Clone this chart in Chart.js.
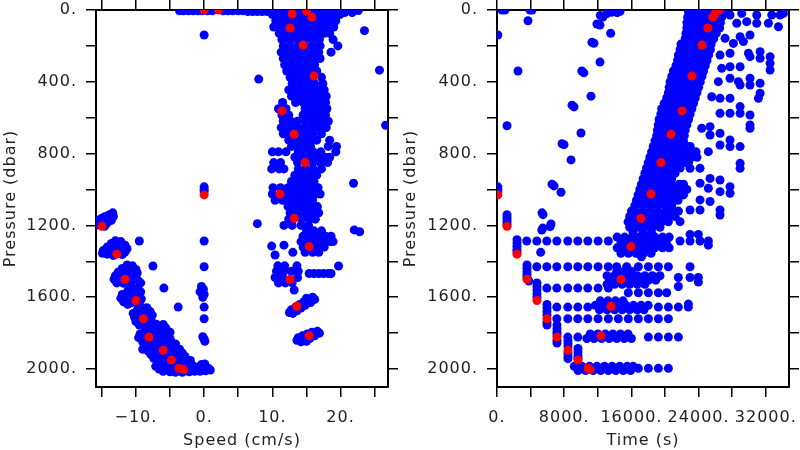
<!DOCTYPE html>
<html>
<head>
<meta charset="utf-8">
<script src="https://cdn.jsdelivr.net/npm/chart.js@4.4.1/dist/chart.umd.min.js"></script>
<style>
  body { margin: 0; background: #fff; width: 800px; height: 450px; overflow: hidden; }
  canvas { position: absolute; top: 0; }
  #speedChart { left: 0; }
  #timeChart { left: 400px; }
</style>
</head>
<body>
<canvas id="speedChart" width="400" height="450"></canvas>
<canvas id="timeChart" width="400" height="450"></canvas>
<script>
// ticks
const pressureTicks = [0, 200, 400, 600, 800, 1000, 1200, 1400, 1600, 1800, 2000];
const pressureLabels = [0, 400, 800, 1200, 1600, 2000];
const speedTicks = [-15, -10, -5, 0, 5, 10, 15, 20, 25];
const speedLabels = [-10, 0, 10, 20];
const timeTicks = [0, 4000, 8000, 12000, 16000, 20000, 24000, 28000, 32000];
const timeLabels = [0, 8000, 16000, 24000, 32000];

// red samples: same index in the three lists
const redPressure = [1030, 1205, 1360, 1500, 1618, 1720, 1822, 1895, 1950, 1995, 2003, 1815, 1650, 1500, 1318, 1160, 1025, 850, 692, 562, 368, 195, 100, 40, 22, 6, 0, 0];
const redSpeed = [0, -15, -12.8, -11.6, -10, -8.9, -8.1, -6, -4.8, -3.7, -3, 15.4, 13.6, 12.6, 15.4, 13.2, 11.1, 14.8, 13.2, 11.4, 16.1, 14.5, 12.6, 15.8, 12.9, 15, 2.1, 0];
const redTime = [100, 1190, 2380, 3570, 4760, 5950, 7140, 8450, 9640, 10830, 11070, 12380, 13570, 14760, 15950, 17140, 18330, 19520, 20710, 22020, 23200, 24400, 25100, 25700, 25950, 26150, 26300, 26450];

// left panel, rows: [pressure, speed, speed, ...]
const speedRows = [
  [4, -3.6, -3.0, -2.3, -1.6, -0.9, -0.3, 0.5, 1.2, 2.8, 3.5, 4.2, 5.0, 5.7],
  [9, 6.4, 7.1, 7.8, 8.5, 9.2],
  [3, 9.9, 10.6, 11.3, 12.0, 12.7, 13.4, 14.1, 14.8, 15.5, 16.2, 16.9, 17.6, 18.3, 19.0, 19.7, 20.4, 21.1, 21.8, 22.6],
  [14, 19.4, 20.6, 21.7],
  [25, 10.0, 11.1, 12.2, 13.3, 14.4, 15.5, 16.6, 17.7, 18.8, 19.9],
  [60, 10.5, 11.6, 12.7, 13.8, 14.9, 16.0, 17.1, 18.2, 19.3],
  [95, 10.2, 11.3, 12.4, 13.5, 14.6, 15.7, 16.8, 17.9, 19.0],
  [130, 11.0, 12.1, 13.2, 14.3, 15.4, 16.5, 17.6, 18.4],
  [165, 11.4, 12.5, 13.6, 14.7, 15.8, 16.9, 18.9],
  [200, 11.6, 12.7, 13.8, 14.9, 16.0, 17.0, 19.6],
  [235, 11.3, 12.4, 13.5, 14.6, 15.7, 16.8, 18.6],
  [270, 11.6, 12.7, 13.8, 14.9, 16.0, 17.0],
  [305, 11.8, 12.9, 14.0, 15.1, 16.2],
  [340, 12.1, 13.2, 14.3, 15.4, 16.5],
  [375, 12.6, 13.7, 14.8, 15.9, 17.2],
  [410, 12.9, 14.0, 15.1, 16.2, 17.4],
  [445, 12.4, 13.5, 14.6, 15.7, 16.8, 17.6],
  [480, 12.8, 13.9, 15.0, 16.1, 17.2, 17.9],
  [515, 11.5, 13.4, 14.5, 15.6, 16.7, 17.8],
  [550, 10.9, 12.0, 14.8, 15.9, 17.0, 18.0],
  [585, 11.4, 12.4, 14.5, 15.6, 16.7, 17.8],
  [620, 11.6, 12.7, 13.7, 14.9, 16.0, 17.1, 18.2],
  [655, 11.3, 12.4, 13.5, 14.6, 15.7, 16.8, 17.9],
  [690, 11.6, 12.6, 13.8, 14.9, 16.0, 17.2],
  [725, 12.4, 13.5, 14.6, 15.7, 16.5, 18.4],
  [760, 12.8, 13.9, 15.0, 15.6, 18.2, 19.4],
  [790, 10.0, 10.9, 12.0, 13.8, 14.9, 16.0, 17.1, 19.3],
  [820, 13.3, 14.4, 15.5, 16.6, 17.7, 18.4],
  [850, 10.2, 11.2, 13.7, 15.9, 17.0, 18.1],
  [885, 9.9, 11.0, 11.7, 13.8, 14.9, 16.0, 17.2],
  [920, 13.3, 14.4, 15.5, 16.5],
  [955, 12.8, 13.9, 15.0, 16.1],
  [990, 10.1, 11.2, 12.3, 13.4, 14.5, 15.6, 16.7],
  [1025, 10.0, 12.0, 13.0, 14.1, 15.2, 16.3, 17.0],
  [1060, 10.4, 11.5, 12.6, 13.7, 14.8, 15.9],
  [1095, 12.3, 13.4, 14.5, 15.6, 16.6],
  [1130, 12.6, 13.7, 14.8, 15.9, 16.8],
  [1165, 12.4, 14.3, 15.4, 16.3],
  [1200, 11.7, 12.9, 14.2, 15.3],
  [1230, 15.0, 16.1, 17.2],
  [1260, 14.5, 15.6, 16.7, 17.8, 18.6],
  [1290, 14.2, 15.2, 16.2, 17.3, 18.4, 18.9],
  [1320, 14.5, 16.5, 17.6],
  [1350, 14.8, 15.9, 16.8],
  [1425, 10.8, 11.8, 13.6],
  [1455, 10.6, 11.7, 12.8, 13.8],
  [1468, 15.4, 16.1, 16.8, 17.5, 18.2, 18.6],
  [1490, 10.4, 11.5, 13.7],
  [1520, 10.9, 11.9, 12.9]
];

// left panel, single points: [speed, pressure]
const speedPairs = [
  [-13.4,1130],[-13.9,1140],[-13.3,1150],[-14.5,1150],[-13.9,1160],[-15.0,1160],[-14.4,1170],[-15.5,1170],[-13.6,1172],[-14.9,1180],[-15.8,1185],[-14.3,1190],[-15.3,1195],[-15.9,1200],[-14.6,1205],
  [-13.0,1285],[-12.2,1290],[-13.6,1300],[-12.6,1305],[-11.6,1310],[-14.2,1320],[-13.2,1320],[-12.1,1325],[-11.3,1330],[-14.8,1340],[-13.8,1340],[-12.6,1345],[-11.6,1348],[-14.2,1360],[-13.3,1368],[-12.0,1362],[-14.9,1355],
  [-11.3,1420],[-10.5,1425],[-12.0,1440],[-11.0,1440],[-10.0,1445],[-12.6,1460],[-11.6,1460],[-10.6,1462],[-9.8,1465],[-13.0,1480],[-12.0,1480],[-11.0,1485],[-10.1,1488],[-13.2,1500],[-12.4,1505],[-10.6,1505],[-9.6,1510],[-12.8,1520],[-11.8,1522],[-10.8,1525],[-9.3,1520],
  [-10.6,1545],[-9.7,1550],[-11.2,1565],[-10.2,1565],[-9.3,1570],[-12.0,1585],[-11.0,1585],[-10.0,1590],[-12.2,1605],[-11.4,1605],[-10.4,1612],[-9.2,1610],[-11.8,1625],[-10.8,1632],[-9.8,1635],[-11.2,1640],
  [-9.2,1655],[-8.4,1658],[-9.8,1672],[-8.8,1675],[-7.9,1680],[-10.4,1690],[-9.4,1695],[-8.4,1698],[-7.6,1700],[-10.2,1712],[-9.4,1720],[-8.0,1722],[-7.7,1735],[-10.0,1735],[-9.0,1740],[-8.2,1742],[-9.5,1755],
  [-7.0,1750],[-6.0,1752],[-7.6,1768],[-6.6,1770],[-5.6,1772],[-8.6,1785],[-7.8,1788],[-6.8,1790],[-5.8,1792],[-5.0,1795],[-9.4,1805],[-8.6,1805],[-7.6,1808],[-6.6,1810],[-5.6,1812],[-9.6,1825],[-8.8,1830],[-7.2,1828],[-6.2,1830],[-5.0,1830],[-9.0,1850],[-8.0,1850],[-7.0,1848],[-6.0,1850],[-8.6,1868],[-7.6,1870],[-9.0,1890],
  [-5.8,1840],[-4.9,1845],[-4.2,1860],[-5.2,1865],[-6.8,1865],[-7.6,1880],[-6.6,1882],[-5.4,1885],[-4.4,1885],[-3.6,1890],[-8.2,1900],[-7.2,1900],[-5.2,1905],[-4.2,1905],[-3.2,1910],[-7.8,1920],[-6.8,1920],[-5.8,1922],[-4.8,1925],[-3.8,1928],[-2.8,1930],[-7.4,1940],[-6.4,1942],[-5.4,1945],[-3.8,1948],[-2.8,1950],[-2.0,1952],[-6.8,1960],[-5.8,1962],[-4.0,1968],[-3.0,1968],[-2.0,1970],
  [-7.1,1985],[-6.3,1982],[-5.4,1980],[-4.6,1985],[-6.6,2000],[-5.8,2000],[-5.0,2002],[-4.2,2005],[-3.4,2008],[-2.6,2002],[-1.8,1992],[-1.0,1990],[-0.2,1992],[0.6,1995],[-6.0,2012],[-5.0,2015],[-4.2,2018],[-3.2,2018],[-2.2,2015],[-1.4,2012],[-0.6,2012],[0.2,2010],[0.9,2005],[-1.5,1985],[-0.4,1975],[0.1,1972],
  [0,139],[0,985],[0,1000],[0,1012],[0,1287],[0,1430],[-0.4,1540],[-0.1,1555],[-0.6,1570],[0,1585],[-0.2,1600],[0,1655],[0,1720],[-0.2,1820],[0,1832],[0.1,1845],
  [-9.5,1287],[-7.5,1426],[-5.9,1549],[-3.8,1655],[8,385],[7.8,1190],[23.5,115],[25.7,335],[26.6,642],[21.9,965],[22,1225],[22.8,1235],[19.7,1426],[9.9,1315],[10.4,1365],[11.7,1310],[13,1350],[13.2,1560],
  [15.9,1600],[16.2,1612],[15.2,1615],[14.6,1625],[15.6,1630],[14.0,1640],[14.8,1645],[13.4,1655],[14.2,1660],[12.8,1670],[13.6,1675],[12.5,1685],[13.0,1690],[15.0,1605],
  [16.6,1790],[16.9,1800],[15.8,1795],[15.1,1805],[16.2,1815],[14.4,1815],[13.8,1825],[14.6,1835],[15.5,1830],[13.6,1840],[14.2,1848],[15.0,1845]
];

// right panel, rows: [pressure, time, time, ...]
const timeRows = [
  [10, 22800, 23700, 24600, 25500, 26400, 26900],
  [40, 22700, 23150, 24050, 24950, 25850, 26750],
  [70, 22600, 23500, 24400, 25300, 26200, 26600],
  [100, 22600, 23050, 23950, 24850, 25750, 26500],
  [130, 22500, 23400, 24300, 25200, 26100],
  [160, 22400, 22850, 23750, 24650, 25550, 25800],
  [190, 21900, 22800, 23700, 24600, 25500],
  [220, 21800, 22250, 23150, 24050, 24950, 25400],
  [250, 21600, 22500, 23400, 24300, 25200],
  [280, 21500, 21950, 22850, 23750, 24650, 25000],
  [310, 21300, 22200, 23100, 24000, 24800],
  [340, 21000, 21450, 22350, 23250, 24150, 24600],
  [370, 20800, 21700, 22600, 23500, 24400],
  [400, 20600, 21050, 21950, 22850, 23750, 24200],
  [430, 20500, 21400, 22300, 23200, 24000],
  [460, 20400, 20850, 21750, 22650, 23550, 23800],
  [490, 20200, 21100, 22000, 22900, 23600],
  [520, 19900, 20350, 21250, 22150, 23050, 23400],
  [550, 19600, 20500, 21400, 22300, 23200],
  [580, 19500, 19950, 20850, 21750, 22650, 23000],
  [610, 19300, 20200, 21100, 22000, 22800],
  [640, 19200, 19650, 20550, 21450, 22350, 22600],
  [670, 19100, 20000, 20900, 21800, 22400],
  [700, 19000, 19450, 20350, 21250, 22150, 22300],
  [730, 18800, 19700, 20600, 21500, 22200],
  [760, 18600, 19050, 19950, 20850, 21750, 22650, 23000],
  [790, 18400, 19300, 20200, 21100, 22000, 22900, 23700],
  [820, 18200, 18650, 19550, 20450, 21350, 22250, 23150, 23800],
  [850, 18000, 18900, 19800, 20700, 21600, 22500, 22800],
  [880, 17800, 18250, 19150, 20050, 20950, 21800],
  [910, 17600, 18500, 19400, 20300, 21200],
  [940, 17400, 17850, 18750, 19650, 20550, 20800],
  [970, 17200, 18100, 19000, 19900, 20800, 21700, 22200],
  [1000, 17000, 17450, 18350, 19250, 20150, 21050, 21950, 22600],
  [1030, 16800, 17700, 18600, 19500, 20400, 21300, 22200],
  [1060, 16600, 17050, 17950, 18850, 19750, 20650, 21550],
  [1090, 16400, 17300, 18200, 19100, 20000, 20800],
  [1120, 16000, 16450, 17350, 18250, 19150, 20050, 20950, 21600],
  [1150, 15800, 16700, 17600, 18500, 19400, 20300, 21200],
  [1180, 15600, 16050, 16950, 17850, 18750, 19650, 20400],
  [1210, 15800, 16700, 17600, 18500, 19400],
  [1240, 16200, 17400, 18400],
  [1265, 14300, 15200, 16100, 17000, 17900, 18800, 19700, 20500],
  [1295, 14750, 15650, 16550, 17450, 18350, 19250, 20150],
  [1325, 14300, 15200, 16100, 17000, 17900, 18800, 19700, 20500],
  [1355, 14750, 15650, 16550, 17450, 18350],
  [1375, 17200],
  [1287, 3540, 4740, 5930, 7120, 8430, 9620, 10810, 12030, 13250, 21790, 22980, 24170, 25160],
  [1250, 22980, 23970],
  [1310, 25160],
  [1430, 4740, 5930, 7120, 8430, 9620, 10810, 12030, 13250, 14250, 15440, 16830, 18020, 19210, 20400, 22980],
  [1455, 14250, 15150, 16000],
  [1480, 13100, 14000, 14900, 15800, 16700, 17600, 18500, 19400],
  [1505, 13550, 14450, 15350, 16250, 17150, 18050, 18900],
  [1528, 13100, 14000, 14900, 15800, 16700, 17600],
  [1490, 21590, 22980, 23970],
  [1515, 23970],
  [1540, 21590],
  [1549, 5930, 7120, 8430, 9620, 10810, 12030, 13250],
  [1575, 15630, 16830, 18020, 19210, 20200],
  [1620, 12300, 13200, 14100, 15000],
  [1645, 11700, 12650, 13550, 14450, 15350, 16250, 17150, 18000],
  [1670, 12200, 13100, 14000, 14900, 15800, 16700, 17500],
  [1655, 7120, 8430, 9620, 10810, 19210, 20400, 21590, 22780],
  [1638, 22780],
  [1720, 7120, 8430, 9620, 10810, 12030, 13250, 14440, 15630, 16830, 18020, 19210, 20400],
  [1805, 11100, 12000, 12900, 13800, 14700, 15600],
  [1830, 10700, 11550, 12450, 13350, 14250, 15150, 16000],
  [1822, 8430, 9620, 18020, 19210, 20400, 21590],
  [1985, 9200, 10100, 11000, 11900, 12800, 13700, 14600, 15500, 16200],
  [2008, 9650, 10550, 11450, 12350, 13250, 14150, 15050, 15900],
  [1996, 16830, 18020, 19210, 20400]
];

// right panel, single points: [time, pressure]
const timePairs = [
  [600,0],[950,0],[3930,0],[4170,0],[3690,60],[100,139],[2500,340],[1190,645],
  [100,985],[100,1000],[100,1012],[1190,1140],[1190,1155],[1190,1170],[1190,1185],[1190,1198],
  [2380,1280],[2380,1298],[2380,1316],[2380,1334],[2380,1348],
  [3570,1420],[3570,1438],[3570,1456],[3570,1474],[3570,1488],[3800,1510],
  [4760,1520],[4760,1540],[4760,1560],[4760,1580],[4760,1600],
  [5950,1640],[5950,1660],[5950,1680],[5950,1700],[5950,1740],[5950,1755],
  [7140,1755],[7140,1775],[7140,1795],[7140,1810],[7140,1840],[7140,1855],
  [8450,1840],[8450,1858],[8450,1876],[8450,1912],[8450,1930],[8450,1942],
  [9640,1885],[9640,1905],[9640,1925],[9640,1940],[9640,1968],[9640,1985],
  [5200,1350],[5330,1226],[5450,1215],[6320,1207],[5360,1130],[5480,1140],[6430,1192],[7620,1015],[6550,970],[6790,980],
  [8810,835],[7740,745],[7980,750],[10000,685],[8930,530],[9170,540],[11190,480],[10100,340],[10340,350],[12260,290],
  [11300,180],[11540,185],[11900,78],[12260,84],[13530,130],[12300,30],[12600,40],[13100,20],[13700,12],[14300,15],[14640,8],
  [27740,28],[29130,19],[29730,65],[30920,28],[32310,74],[32710,28],[33700,28],[34100,19],[33500,93],[30920,74],[28540,74],
  [27150,158],[28140,186],[28940,149],[29330,176],[30120,139],
  [26550,251],[27740,241],[29930,241],[30120,260],[31320,232],[31320,269],[32510,260],[32510,297],[32510,334],
  [26750,325],[27740,316],[28940,316],[26350,399],[27740,380],[28740,399],[30120,380],[31320,408],[28940,418],[30120,418],
  [31320,464],[31120,492],[25560,483],[26550,492],[27740,492],[28940,538],[26550,575],[27740,575],[28940,575],[30120,585],
  [30120,640],[30120,659],[24370,659],[25360,650],[25360,696],[26550,687],[26550,752],[27740,724],[27740,761],[28940,761],
  [25160,789],[28940,854],[28940,882],[22980,882],[24170,882],[24170,965],[25160,993],[25360,938],[26550,947],[27740,984],
  [27740,1021],[26550,1012],[22980,1114],[24170,1114],[25360,1067],[24170,1058],[26550,1114],[26550,1142],[21790,1179]
];

const INK = '#222';
const FONT = { family: "'DejaVu Sans', sans-serif", size: 16 };

// wider lettering, like the original plot font
const spacing = {
  id: 'spacing',
  beforeLayout(chart) { chart.ctx.letterSpacing = '1px'; },
  beforeDraw(chart) { chart.ctx.letterSpacing = '1px'; }
};

function numLabel(v) {
  return (v < 0 ? '\u2212' + (-v) : '' + v) + '.';
}

function rowsToPoints(rows) {
  const pts = [];
  rows.forEach(r => {
    for (let i = 1; i < r.length; i++) pts.push({ x: r[i], y: r[0] });
  });
  return pts;
}

function pairsToPoints(pairs) {
  return pairs.map(p => ({ x: p[0], y: p[1] }));
}

function noEdgePadding(a) {
  a.paddingTop = 0; a.paddingBottom = 0; a.paddingLeft = 0; a.paddingRight = 0;
}

function makePanel(id, o) {
  const frame = { drawOnChartArea: false, drawTicks: true, tickLength: 10, color: '#000', lineWidth: 1.5 };
  const edge = { display: true, color: '#000', width: 2 };
  const setTicks = list => axis => { axis.ticks = list.map(v => ({ value: v })); };

  return new Chart(document.getElementById(id), {
    type: 'scatter',
    data: {
      datasets: [
        { data: o.red, backgroundColor: '#ff0000', pointRadius: 4.5, borderWidth: 0, clip: 0, order: 0 },
        { data: o.blue, backgroundColor: '#0000ff', pointRadius: 4.5, borderWidth: 0, clip: 0, order: 1 }
      ]
    },
    plugins: [spacing],
    options: {
      responsive: false,
      animation: false,
      devicePixelRatio: 1,
      layout: { padding: 0 },
      plugins: { legend: { display: false }, tooltip: { enabled: false } },
      scales: {
        x: {
          type: 'linear', position: 'bottom', min: o.xMin, max: o.xMax,
          afterBuildTicks: setTicks(o.xTicks),
          afterFit: a => { a.height = 63; noEdgePadding(a); },
          ticks: { autoSkip: false, maxRotation: 0, padding: 11, color: INK, font: FONT,
                   callback: v => o.xLabels.includes(v) ? numLabel(v) : '' },
          grid: frame, border: edge,
          title: { display: true, text: o.xTitle, color: INK, font: FONT, padding: { top: 0, bottom: 0 } }
        },
        xTop: {
          type: 'linear', position: 'top', min: o.xMin, max: o.xMax,
          afterBuildTicks: setTicks(o.xTicks),
          afterFit: a => { a.height = 10; noEdgePadding(a); },
          ticks: { display: false },
          grid: frame, border: edge
        },
        y: {
          type: 'linear', position: 'left', reverse: true, min: 0, max: 2100,
          afterBuildTicks: setTicks(pressureTicks),
          afterFit: a => { a.width = o.leftWidth; noEdgePadding(a); },
          ticks: { autoSkip: false, padding: 9, color: INK, font: FONT,
                   callback: v => pressureLabels.includes(v) ? numLabel(v) : '' },
          grid: frame, border: edge,
          title: { display: true, text: 'Pressure (dbar)', color: INK, font: FONT, padding: { top: 1, bottom: 0 } }
        },
        yRight: {
          type: 'linear', position: 'right', reverse: true, min: 0, max: 2100,
          afterBuildTicks: setTicks(pressureTicks),
          afterFit: a => { a.width = o.rightWidth; noEdgePadding(a); },
          ticks: { display: false },
          grid: frame, border: edge
        }
      }
    }
  });
}

const speedRed = redSpeed.map((s, i) => ({ x: s, y: redPressure[i] }));
const timeRed = redTime.map((t, i) => ({ x: t, y: redPressure[i] }));

makePanel('speedChart', {
  xTitle: 'Speed (cm/s)', xMin: -15.85, xMax: 26.95,
  xTicks: speedTicks, xLabels: speedLabels,
  leftWidth: 96, rightWidth: 12,
  blue: rowsToPoints(speedRows).concat(pairsToPoints(speedPairs)),
  red: speedRed
});

makePanel('timeChart', {
  xTitle: 'Time (s)', xMin: 0, xMax: 34760,
  xTicks: timeTicks, xLabels: timeLabels,
  leftWidth: 97, rightWidth: 11,
  blue: rowsToPoints(timeRows).concat(pairsToPoints(timePairs)),
  red: timeRed
});
</script>
</body>
</html>
